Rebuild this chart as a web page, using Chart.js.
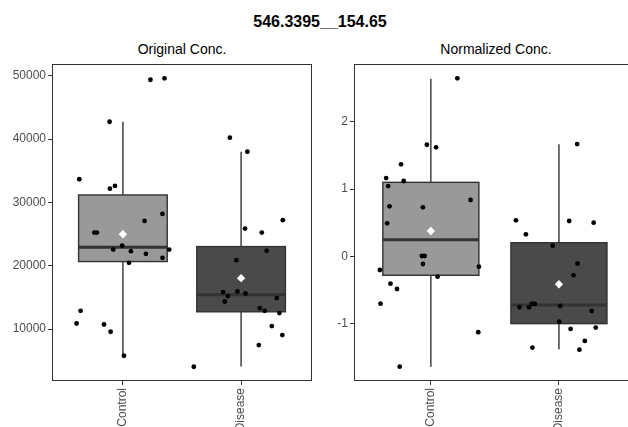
<!DOCTYPE html>
<html>
<head>
<meta charset="utf-8">
<script src="https://cdn.jsdelivr.net/npm/chart.js@4.4.1/dist/chart.umd.min.js"></script>
<style>
  body { margin: 0; background: #fff; overflow: hidden; width: 628px; height: 427px; position: relative; font-family: "Liberation Sans", Arial, sans-serif; }
  #mainTitle { position: absolute; left: 0; top: 12px; width: 640px; text-align: center; font-size: 16px; line-height: 20px; font-weight: bold; color: #000; }
  .sub { position: absolute; top: 41px; font-size: 14px; line-height: 16px; color: #000; text-align: center; white-space: nowrap; }
  #sub1 { left: 82px; width: 200px; }
  #sub2 { left: 396px; width: 200px; }
  canvas { position: absolute; top: 0; }
  #chartOrig { left: 0; }
  #chartNorm { left: 320px; }
</style>
</head>
<body>
<div id="mainTitle">546.3395__154.65</div>
<div class="sub" id="sub1">Original Conc.</div>
<div class="sub" id="sub2">Normalized Conc.</div>
<canvas id="chartOrig" width="320" height="450"></canvas>
<canvas id="chartNorm" width="320" height="450"></canvas>
<script>
// groups
var categories = ['Control', 'Disease'];
var boxFills = ['#999999', '#4a4a4a'];

// ---- Original Conc. ----
var origTicks = [10000, 20000, 30000, 40000, 50000];
var origQ1 = [20662, 12729];
var origMedian = [22934, 15410];
var origQ3 = [31183, 23028];
var origLow = [5789, 4101];
var origHigh = [42744, 38013];
var origMean = [24984, 18044];

var origCtrlX = [0.631, 0.642, 0.608, 0.887, 0.890, 0.933, 1.233, 1.352, 0.758, 0.780, 1.183, 1.335, 0.994, 0.918, 1.068, 1.392, 1.051, 1.195, 1.335, 0.840, 0.896, 1.009];
var origCtrlY = [33659, 12886, 10883, 42744, 32177, 32603, 49369, 49590, 25237, 25237, 27082, 28186, 23186, 22555, 22303, 22555, 20457, 21877, 21246, 10726, 9574, 5789];
var origDisX = [1.905, 2.053, 2.034, 2.175, 2.353, 2.217, 1.960, 1.848, 1.888, 1.969, 2.037, 1.862, 2.302, 2.158, 2.200, 2.324, 2.260, 2.349, 2.150, 1.600];
var origDisY = [40221, 38013, 25868, 25237, 27192, 22350, 20883, 15836, 15205, 15931, 15615, 14353, 14890, 13312, 12886, 12524, 10473, 9054, 7476, 4054];

// ---- Normalized Conc. ----
var normTicks = [-1, 0, 1, 2];
var normQ1 = [-0.283, -1.003];
var normMedian = [0.247, -0.725];
var normQ3 = [1.101, 0.202];
var normLow = [-1.643, -1.384];
var normHigh = [2.643, 1.667];
var normMean = [0.376, -0.417];

var normCtrlX = [1.207, 0.969, 1.041, 0.767, 0.651, 0.788, 0.667, 1.310, 0.677, 0.938, 0.659, 0.930, 0.951, 0.938, 0.602, 1.375, 1.052, 0.685, 0.736, 0.607, 1.370, 0.757];
var normCtrlY = [2.649, 1.661, 1.622, 1.369, 1.165, 1.121, 1.046, 0.838, 0.744, 0.729, 0.491, 0.004, 0.004, -0.115, -0.204, -0.155, -0.304, -0.408, -0.487, -0.705, -1.131, -1.643];
var normDisX = [2.142, 2.080, 2.271, 1.664, 1.742, 1.951, 2.145, 2.114, 1.692, 1.767, 1.788, 1.812, 2.010, 2.256, 2.002, 2.091, 2.287, 2.202, 1.793, 2.160];
var normDisY = [1.671, 0.525, 0.500, 0.536, 0.327, 0.158, -0.110, -0.283, -0.759, -0.759, -0.705, -0.710, -0.740, -0.814, -0.973, -1.082, -1.062, -1.260, -1.360, -1.390];

function zip(xs, ys) {
  var out = [];
  for (var i = 0; i < xs.length; i++) out.push({x: xs[i], y: ys[i]});
  return out;
}

// draws the boxes and whiskers under the points, plus the panel border
function boxPlugin(q1, med, q3, lo, hi) {
  return {
    id: 'boxes',
    beforeDatasetsDraw: function(chart) {
      var ctx = chart.ctx, xs = chart.scales.x, ys = chart.scales.y;
      ctx.save();
      for (var i = 0; i < categories.length; i++) {
        var c = xs.getPixelForValue(i + 1);
        var left = xs.getPixelForValue(i + 1 - 0.375);
        var right = xs.getPixelForValue(i + 1 + 0.375);
        var yq1 = ys.getPixelForValue(q1[i]), yq3 = ys.getPixelForValue(q3[i]);
        ctx.strokeStyle = '#333333';
        ctx.lineWidth = 1.4;
        ctx.beginPath();
        ctx.moveTo(c, ys.getPixelForValue(hi[i])); ctx.lineTo(c, yq3);
        ctx.moveTo(c, yq1); ctx.lineTo(c, ys.getPixelForValue(lo[i]));
        ctx.stroke();
        ctx.fillStyle = boxFills[i];
        ctx.fillRect(left, yq3, right - left, yq1 - yq3);
        ctx.strokeRect(left, yq3, right - left, yq1 - yq3);
        ctx.lineWidth = 3;
        ctx.beginPath();
        var ym = ys.getPixelForValue(med[i]);
        ctx.moveTo(left, ym); ctx.lineTo(right, ym);
        ctx.stroke();
      }
      ctx.restore();
    },
    afterDraw: function(chart) {
      var a = chart.chartArea, ctx = chart.ctx;
      ctx.save();
      ctx.strokeStyle = '#333333';
      ctx.lineWidth = 1;
      ctx.strokeRect(a.left + 0.5, a.top + 0.5, a.right - a.left - 1, a.bottom - a.top - 1);
      ctx.restore();
    }
  };
}

function makeChart(id, yTicks, yMin, yMax, axisWidth, padRight, ctrl, dis, means, plugin) {
  var tickFont = {family: 'Liberation Sans', size: 12};
  return new Chart(document.getElementById(id), {
    type: 'scatter',
    data: {
      datasets: [
        {data: ctrl, pointRadius: 2.4, backgroundColor: '#000', borderWidth: 0},
        {data: dis, pointRadius: 2.4, backgroundColor: '#000', borderWidth: 0},
        {data: zip([1, 2], means), pointStyle: 'rectRot', pointRadius: 4.2, backgroundColor: '#ffffff', borderWidth: 0}
      ]
    },
    options: {
      responsive: false,
      animation: false,
      events: [],
      layout: {padding: {top: 64, right: padRight, left: 0, bottom: 0}},
      plugins: {legend: {display: false}, tooltip: {enabled: false}},
      scales: {
        x: {
          type: 'linear', min: 0.4, max: 2.6,
          afterBuildTicks: function(s) { s.ticks = [{value: 1}, {value: 2}]; },
          afterFit: function(s) { s.height = 69; },
          grid: {drawOnChartArea: false, drawTicks: true, tickLength: 4, tickColor: '#333333'},
          border: {display: false},
          ticks: {
            autoSkip: false, minRotation: 90, maxRotation: 90, padding: 3,
            color: '#4d4d4d', font: tickFont,
            callback: function(v) { return categories[v - 1]; }
          }
        },
        y: {
          min: yMin, max: yMax,
          afterBuildTicks: function(s) { s.ticks = yTicks.map(function(v) { return {value: v}; }); },
          afterFit: function(s) { s.width = axisWidth; },
          grid: {drawOnChartArea: false, drawTicks: true, tickLength: 4, tickColor: '#333333'},
          border: {display: false},
          ticks: {padding: 2, color: '#4d4d4d', font: tickFont, callback: function(v) { return String(v); }}
        }
      }
    },
    plugins: [plugin]
  });
}

makeChart('chartOrig', origTicks, 1800, 51860, 52, 8,
  zip(origCtrlX, origCtrlY), zip(origDisX, origDisY), origMean,
  boxPlugin(origQ1, origMedian, origQ3, origLow, origHigh));

makeChart('chartNorm', normTicks, -1.857, 2.863, 34, 3,
  zip(normCtrlX, normCtrlY), zip(normDisX, normDisY), normMean,
  boxPlugin(normQ1, normMedian, normQ3, normLow, normHigh));
</script>
</body>
</html>
